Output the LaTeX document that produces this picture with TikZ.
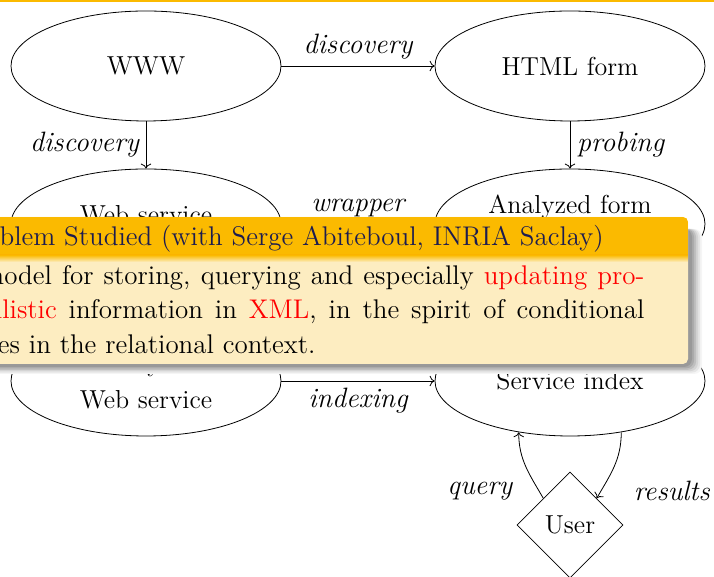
\documentclass[tikz,border=0pt]{standalone}
\usepackage{tikz}
\usetikzlibrary{positioning, arrows.meta, shapes.geometric}
\definecolor{blocktitle}{RGB}{251,186,0}
\definecolor{blockbody}{RGB}{253,237,193}
\definecolor{titleblue}{RGB}{28,28,80}

\begin{document}
\begin{tikzpicture}[x=0.5pt, y=0.5pt, font=\fontsize{13}{17}\selectfont,
    state/.style={ellipse, draw, minimum width=135pt, minimum height=55pt,
                  inner sep=0pt, align=center},
    lbl/.style={font=\fontsize{14}{17}\selectfont\itshape},
    blocktext/.style={anchor=base west, inner sep=0pt,
                      font=\fontsize{13.5}{17}\selectfont}]
  \useasboundingbox (0,0) rectangle (714,577);
  \fill[blocktitle] (0,575) rectangle (714,577);

  % sources and services
  \node[state] (www) at (146,511) {WWW};
  \node[state] (html) at (570,511) {HTML form};
  \node[state] (websvc) at (146,353) {Web service\\[-8pt]\phantom{W}};
  \node[state] (analyzed) at (570,353) {Analyzed form\\[2pt]\phantom{W}};
  \node[state] (indexed) at (146,196) {Analyzed\\[1.5pt]Web service};
  \node[state] (index) at (570,196) {Service index};
  \node[diamond, draw, minimum size=53pt, inner sep=0pt] (user) at (570,52) {User};

  \draw[->] (www) -- node[lbl, above] {discovery} (html);
  \draw[->] (www) -- node[lbl, left] {discovery} (websvc);
  \draw[->] (html) -- node[lbl, right] {probing} (analyzed);
  \draw[->] (analyzed) -- node[lbl, above] {wrapper} (websvc);
  \draw[->] (websvc) -- (indexed);
  \draw[->] (indexed) -- node[lbl, below] {indexing} (index);
  \draw[->] (user.north west) to[out=120, in=270]
        node[lbl, left=10pt, pos=0.1] {query} (index.225);
  \draw[->] (index.315) to[out=270, in=60]
        node[lbl, right=13pt, pos=0.9] {results} (user.north east);

  % block on top, with its shadow
  \foreach \k/\c in {10/4, 8/10, 6/17, 4/25, 2/33, 0/40}
    \fill[black!\c, rounded corners=4pt]
      (-56-\k, 210-0.7*\k) rectangle (692+\k, 348);
  \path[fill=blockbody, rounded corners=2.5pt] (-60,213) rectangle (688,360);
  \begin{scope}
    \clip[rounded corners=2.5pt] (-60,213) rectangle (688,360);
    \fill[blocktitle] (-60,322) rectangle (688,360);
    \shade[top color=blocktitle, bottom color=blockbody] (-60,315) rectangle (688,322);
  \end{scope}
  \node[blocktext, anchor=base east, text=titleblue] (probtitle) at (604,331)
        {Problem Studied (with Serge Abiteboul, INRIA Saclay)};
  \node[blocktext] (bodyone) at (-48,292)
        {\makebox[346pt][s]{A model for storing, querying and especially \textcolor{red}{updating pro-}}};
  \node[blocktext] (bodytwo) at (-48,258)
        {\makebox[346pt][s]{\textcolor{red}{babilistic} information in \textcolor{red}{XML}, in the spirit of conditional}};
  \node[blocktext] (bodythree) at (-48,223)
        {tables in the relational context.};
\end{tikzpicture}
\end{document}
